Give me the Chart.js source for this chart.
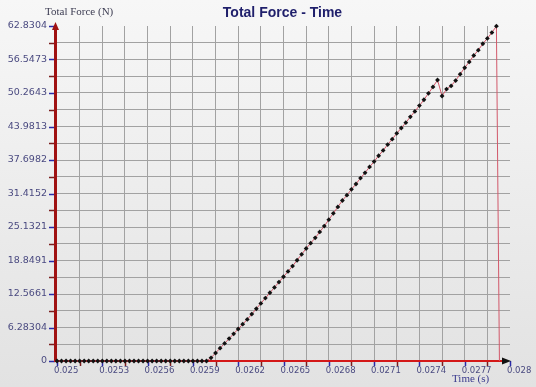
<!DOCTYPE html>
<html>
<head>
<meta charset="utf-8">
<script src="https://cdn.jsdelivr.net/npm/chart.js@4.4.0/dist/chart.umd.min.js"></script>
<style>
  html, body { margin: 0; padding: 0; background: #efefef; }
  canvas { display: block; }
</style>
</head>
<body>
<canvas id="c" width="536" height="387"></canvas>
<script>
// ---- data ----
const times = [
  0.02500, 0.02503, 0.02506, 0.02509, 0.02512, 0.02515, 0.02518, 0.02521, 0.02524, 0.02527,
  0.02530, 0.02533, 0.02536, 0.02539, 0.02542, 0.02545, 0.02548, 0.02551, 0.02554, 0.02557,
  0.02560, 0.02563, 0.02566, 0.02569, 0.02572, 0.02575, 0.02578, 0.02581, 0.02584, 0.02587,
  0.02590, 0.02593, 0.02596, 0.02599, 0.02602, 0.02605, 0.02608, 0.02611, 0.02614, 0.02617,
  0.02620, 0.02623, 0.02626, 0.02629, 0.02632, 0.02635, 0.02638, 0.02641, 0.02644, 0.02647,
  0.02650, 0.02653, 0.02656, 0.02659, 0.02662, 0.02665, 0.02668, 0.02671, 0.02674, 0.02677,
  0.02680, 0.02683, 0.02686, 0.02689, 0.02692, 0.02695, 0.02698, 0.02701, 0.02704, 0.02707,
  0.02710, 0.02713, 0.02716, 0.02719, 0.02722, 0.02725, 0.02728, 0.02731, 0.02734, 0.02737,
  0.02740, 0.02743, 0.02746, 0.02749, 0.02752, 0.02755, 0.02758, 0.02761, 0.02764, 0.02767,
  0.02770, 0.02773, 0.02776, 0.02779, 0.02782, 0.02785, 0.02788, 0.02791, 0.02793
];
const forces = [
  0, 0, 0, 0, 0, 0, 0, 0, 0, 0,
  0, 0, 0, 0, 0, 0, 0, 0, 0, 0,
  0, 0, 0, 0, 0, 0, 0, 0, 0, 0,
  0, 0, 0, 0, 0.6, 1.5, 2.4, 3.3, 4.2, 5.1,
  6.0, 6.9, 7.8, 8.8, 9.8, 10.8, 11.8, 12.8, 13.8, 14.8,
  15.8, 16.8, 17.8, 18.9, 20.0, 21.1, 22.1, 23.1, 24.2, 25.3,
  26.5, 27.7, 28.9, 30.1, 31.1, 32.2, 33.2, 34.3, 35.3, 36.4,
  37.4, 38.5, 39.5, 40.6, 41.6, 42.7, 43.7, 44.7, 45.8, 46.8,
  47.9, 49.0, 50.2, 51.4, 52.7, 49.7, 51.0, 51.6, 52.6, 53.8,
  55.0, 56.1, 57.3, 58.3, 59.5, 60.5, 61.6, 62.8, 0
];
const xTickLabels = ['0.025','0.0253','0.0256','0.0259','0.0262','0.0265','0.0268','0.0271','0.0274','0.0277','0.028'];
const yTickLabels = ['0','6.28304','12.5661','18.8491','25.1321','31.4152','37.6982','43.9813','50.2643','56.5473','62.8304'];
const titleText = 'Total Force - Time';
const yTitle = 'Total Force (N)';
const xTitle = 'Time (s)';

const xMin = parseFloat(xTickLabels[0]), xMax = parseFloat(xTickLabels[xTickLabels.length - 1]);
const yMin = parseFloat(yTickLabels[0]), yMax = parseFloat(yTickLabels[yTickLabels.length - 1]);
const N_MAJOR = xTickLabels.length - 1;

function gridValues(min, max, n) { // n major intervals, halves drawn as grid
  const out = [];
  for (let k = 0; k <= 2 * n; k++) out.push(min + (max - min) * k / (2 * n));
  return out;
}
const xGrid = gridValues(xMin, xMax, N_MAJOR);
const yGrid = gridValues(yMin, yMax, yTickLabels.length - 1);

const gridColor = (ctx) => (ctx.index === 0 || ctx.index === 2 * N_MAJOR) ? 'rgba(0,0,0,0)' : '#a2a2a2';

const deco = {
  id: 'deco',
  beforeDraw(chart) {
    const { ctx, width, height } = chart;
    const g = ctx.createLinearGradient(0, 0, 0, height);
    g.addColorStop(0, '#f7f7f7');
    g.addColorStop(1, '#e2e2e2');
    ctx.save();
    ctx.fillStyle = g;
    ctx.fillRect(0, 0, width, height);
    ctx.restore();
  },
  beforeDatasetsDraw(chart) {
    const { ctx, chartArea: a, scales: { x, y } } = chart;
    ctx.save();
    // y tick marks
    yGrid.forEach((v, k) => {
      const py = Math.round(y.getPixelForValue(v)) + 0.5;
      ctx.strokeStyle = (k % 2 === 0) ? '#2a2aa8' : '#7a1e1e';
      ctx.lineWidth = 1.5;
      ctx.beginPath(); ctx.moveTo(a.left - 8, py); ctx.lineTo(a.left - 2, py); ctx.stroke();
    });
    // x tick marks
    xGrid.forEach((v, k) => {
      const px = Math.round(x.getPixelForValue(v)) + 0.5;
      ctx.strokeStyle = (k % 2 === 0) ? '#2a2aa8' : '#7a1e1e';
      ctx.lineWidth = 1.5;
      ctx.beginPath(); ctx.moveTo(px, a.bottom); ctx.lineTo(px, a.bottom + 5); ctx.stroke();
    });
    // left axis
    ctx.strokeStyle = '#a01212';
    ctx.lineWidth = 3;
    ctx.beginPath(); ctx.moveTo(a.left - 1.5, a.bottom + 1); ctx.lineTo(a.left - 1.5, a.top + 2); ctx.stroke();
    ctx.fillStyle = '#a01212';
    ctx.beginPath();
    ctx.moveTo(a.left - 1.5, a.top - 4);
    ctx.lineTo(a.left - 5, a.top + 4);
    ctx.lineTo(a.left + 2, a.top + 4);
    ctx.closePath(); ctx.fill();
    // bottom axis
    ctx.strokeStyle = '#d41818';
    ctx.lineWidth = 2;
    ctx.beginPath(); ctx.moveTo(a.left - 3, a.bottom); ctx.lineTo(a.right - 6, a.bottom); ctx.stroke();
    ctx.fillStyle = '#111';
    ctx.beginPath();
    ctx.moveTo(a.right + 1, a.bottom);
    ctx.lineTo(a.right - 8, a.bottom - 3.5);
    ctx.lineTo(a.right - 8, a.bottom + 3.5);
    ctx.closePath(); ctx.fill();
    ctx.restore();
  },
  afterDraw(chart) {
    const { ctx, chartArea: a, scales: { x, y } } = chart;
    ctx.save();
    // y labels
    ctx.font = '9.5px "DejaVu Sans"';
    ctx.fillStyle = '#4a4a80';
    ctx.textAlign = 'right';
    ctx.textBaseline = 'middle';
    yTickLabels.forEach(l => {
      ctx.fillText(l, a.left - 10, y.getPixelForValue(parseFloat(l)));
    });
    // x labels
    ctx.font = '8.5px "DejaVu Sans"';
    ctx.textAlign = 'left';
    ctx.textBaseline = 'top';
    xTickLabels.forEach(l => {
      ctx.fillText(l, x.getPixelForValue(parseFloat(l)) - 3, a.bottom + 6);
    });
    // title
    ctx.font = 'bold 14px "Liberation Sans"';
    ctx.fillStyle = '#1f1f6b';
    ctx.textAlign = 'center';
    ctx.textBaseline = 'middle';
    ctx.fillText(titleText, 282.5, 13);
    // axis titles
    ctx.font = '11px "Liberation Serif"';
    ctx.fillStyle = '#3c3c52';
    ctx.textAlign = 'left';
    ctx.fillText(yTitle, 45, 12);
    ctx.fillStyle = '#3a3a8e';
    ctx.fillText(xTitle, 452, 379);
    ctx.restore();
  }
};

new Chart(document.getElementById('c'), {
  type: 'scatter',
  data: {
    datasets: [{
      data: times.map((t, i) => ({ x: t, y: forces[i] })),
      showLine: true,
      borderColor: '#d2586a',
      borderWidth: 1,
      tension: 0,
      pointStyle: 'rectRot',
      pointRadius: (ctx) => ctx.dataIndex === times.length - 1 ? 0 : 2.4,
      pointBackgroundColor: '#111',
      pointBorderColor: '#111',
      pointBorderWidth: 0,
      clip: false
    }]
  },
  options: {
    responsive: false,
    animation: false,
    devicePixelRatio: 1,
    layout: { padding: { top: 26, right: 26, left: 0, bottom: 0 } },
    plugins: { legend: { display: false }, tooltip: { enabled: false }, title: { display: false } },
    scales: {
      x: {
        type: 'linear', min: xMin, max: xMax,
        afterBuildTicks: (s) => { s.ticks = xGrid.map(v => ({ value: v })); },
        afterFit: (s) => { s.height = 26; },
        ticks: { display: false, autoSkip: false },
        grid: { color: gridColor, lineWidth: 1, drawTicks: false },
        border: { display: false }
      },
      y: {
        type: 'linear', min: yMin, max: yMax,
        afterBuildTicks: (s) => { s.ticks = yGrid.map(v => ({ value: v })); },
        afterFit: (s) => { s.width = 57; },
        ticks: { display: false, autoSkip: false },
        grid: { color: gridColor, lineWidth: 1, drawTicks: false },
        border: { display: false }
      }
    }
  },
  plugins: [deco]
});
</script>
</body>
</html>
